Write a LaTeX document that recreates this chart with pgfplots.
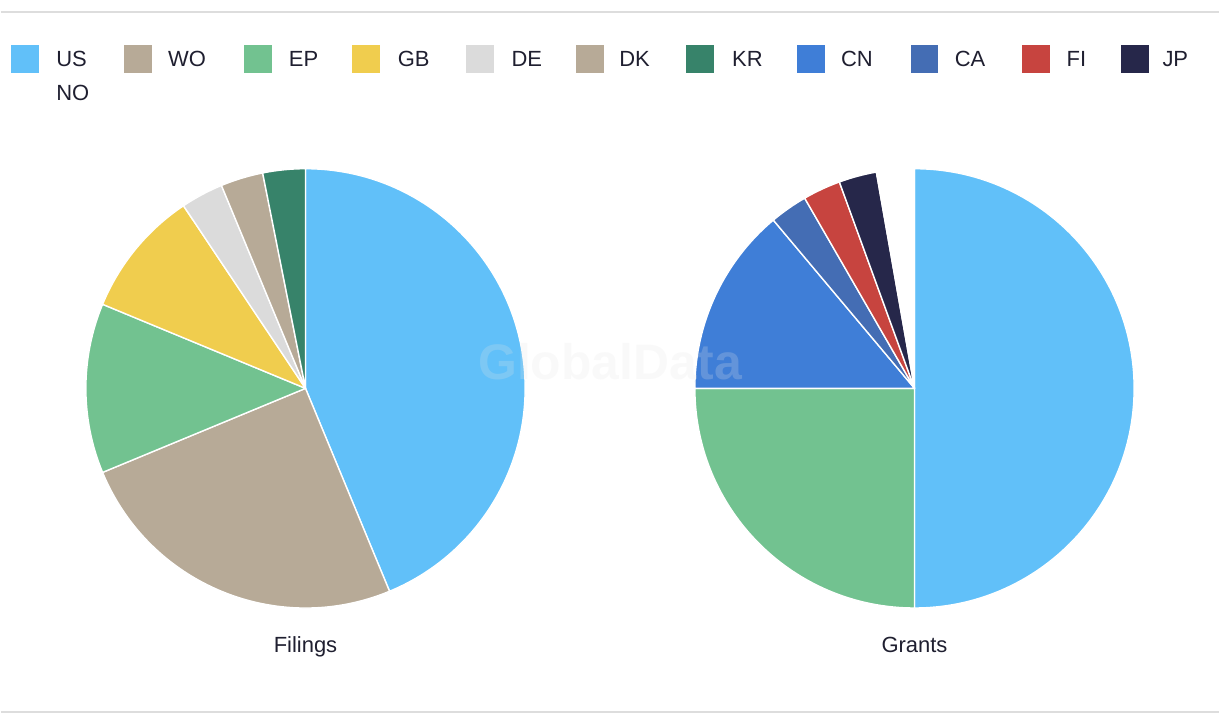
\documentclass[border=0pt]{standalone}
\usepackage{pgfplots}
\usepackage{pgfplotstable}
\pgfplotsset{compat=1.18}
\usepackage{fontspec}
\setmainfont{Liberation Sans}

\definecolor{cUS}{HTML}{61C0F9}
\definecolor{cWO}{HTML}{B7AA97}
\definecolor{cEP}{HTML}{72C290}
\definecolor{cGB}{HTML}{F0CD4E}
\definecolor{cDE}{HTML}{DBDBDB}
\definecolor{cDK}{HTML}{B7AA97}
\definecolor{cKR}{HTML}{37836A}
\definecolor{cCN}{HTML}{3F7ED7}
\definecolor{cCA}{HTML}{446DB4}
\definecolor{cFI}{HTML}{C7443F}
\definecolor{cJP}{HTML}{26274A}
\definecolor{cNO}{HTML}{FFFFFF}
\definecolor{txt}{HTML}{1F1F30}
\definecolor{rule}{HTML}{DDDDDD}

\pgfplotstableread{
name value col
US 14 cUS
WO 8 cWO
EP 4 cEP
GB 3 cGB
DE 1 cDE
DK 1 cDK
KR 1 cKR
}\filings

\pgfplotstableread{
name value col
US 18 cUS
EP 9 cEP
CN 5 cCN
CA 1 cCA
FI 1 cFI
JP 1 cJP
NO 1 cNO
}\grants

\newcommand\drawpie[3]{%
  \pgfplotstablegetrowsof{#1}%
  \pgfmathtruncatemacro\nrows{\pgfplotsretval-1}%
  \gdef\pietotal{0}%
  \pgfplotsforeachungrouped \i in {0,...,\nrows}{%
    \pgfplotstablegetelem{\i}{value}\of#1%
    \pgfmathparse{\pietotal+\pgfplotsretval}\xdef\pietotal{\pgfmathresult}}%
  \gdef\piecum{0}%
  \pgfplotsforeachungrouped \i in {0,...,\nrows}{%
    \pgfplotstablegetelem{\i}{value}\of#1\let\v\pgfplotsretval
    \pgfplotstablegetelem{\i}{col}\of#1\let\c\pgfplotsretval
    \pgfmathsetmacro\a{90-360*\piecum/\pietotal}%
    \pgfmathsetmacro\b{90-360*(\piecum+\v)/\pietotal}%
    \edef\temp{\noexpand\fill[fill=\c,draw=white,line width=0.7pt,line join=round]
      (axis cs:#2,#3) -- ([shift={(\a:110pt)}]axis cs:#2,#3)
      arc[start angle=\a,end angle=\b,radius=110pt] -- cycle;}%
    \temp
    \pgfmathparse{\piecum+\v}\xdef\piecum{\pgfmathresult}%
  }%
}

\begin{document}
\begin{tikzpicture}
\begin{axis}[
  x=0.5pt, y=0.5pt,
  xmin=0, xmax=1220, ymin=0, ymax=724,
  hide axis, clip=false,
  scale only axis,
]
% full canvas
\path (axis cs:0,0) rectangle (axis cs:1220,724);
% rules
\draw[rule, line width=1pt] (axis cs:0,712) -- (axis cs:1220,712);
\draw[rule, line width=1pt] (axis cs:0,11) -- (axis cs:1220,11);

\drawpie{\filings}{305}{335}
\drawpie{\grants}{915}{335}

% watermark
\node[text=gray!20, opacity=0.22, font=\fontsize{25pt}{28pt}\selectfont\bfseries] at (axis cs:610,362) {GlobalData};

% titles
\node[anchor=base, text=txt, font=\fontsize{11pt}{13pt}\selectfont] at (axis cs:305,70) {Filings};
\node[anchor=base, text=txt, font=\fontsize{11pt}{13pt}\selectfont] at (axis cs:915,70) {Grants};

% legend
\fill[cUS] (axis cs:10,679) rectangle (axis cs:38,651);
\node[anchor=base west, inner sep=0pt, text=txt, font=\fontsize{11pt}{13pt}\selectfont] at (axis cs:55,657) {US};
\fill[cWO] (axis cs:123,679) rectangle (axis cs:151,651);
\node[anchor=base west, inner sep=0pt, text=txt, font=\fontsize{11pt}{13pt}\selectfont] at (axis cs:167,657) {WO};
\fill[cEP] (axis cs:243,679) rectangle (axis cs:271,651);
\node[anchor=base west, inner sep=0pt, text=txt, font=\fontsize{11pt}{13pt}\selectfont] at (axis cs:288,657) {EP};
\fill[cGB] (axis cs:352,679) rectangle (axis cs:380,651);
\node[anchor=base west, inner sep=0pt, text=txt, font=\fontsize{11pt}{13pt}\selectfont] at (axis cs:397,657) {GB};
\fill[cDE] (axis cs:466,679) rectangle (axis cs:494,651);
\node[anchor=base west, inner sep=0pt, text=txt, font=\fontsize{11pt}{13pt}\selectfont] at (axis cs:511,657) {DE};
\fill[cDK] (axis cs:576,679) rectangle (axis cs:604,651);
\node[anchor=base west, inner sep=0pt, text=txt, font=\fontsize{11pt}{13pt}\selectfont] at (axis cs:619,657) {DK};
\fill[cKR] (axis cs:686,679) rectangle (axis cs:714,651);
\node[anchor=base west, inner sep=0pt, text=txt, font=\fontsize{11pt}{13pt}\selectfont] at (axis cs:732,657) {KR};
\fill[cCN] (axis cs:797,679) rectangle (axis cs:825,651);
\node[anchor=base west, inner sep=0pt, text=txt, font=\fontsize{11pt}{13pt}\selectfont] at (axis cs:841,657) {CN};
\fill[cCA] (axis cs:911,679) rectangle (axis cs:939,651);
\node[anchor=base west, inner sep=0pt, text=txt, font=\fontsize{11pt}{13pt}\selectfont] at (axis cs:955,657) {CA};
\fill[cFI] (axis cs:1023,679) rectangle (axis cs:1051,651);
\node[anchor=base west, inner sep=0pt, text=txt, font=\fontsize{11pt}{13pt}\selectfont] at (axis cs:1067,657) {FI};
\fill[cJP] (axis cs:1122,679) rectangle (axis cs:1150,651);
\node[anchor=base west, inner sep=0pt, text=txt, font=\fontsize{11pt}{13pt}\selectfont] at (axis cs:1163,657) {JP};
\fill[cNO] (axis cs:10,645) rectangle (axis cs:38,617);
\node[anchor=base west, inner sep=0pt, text=txt, font=\fontsize{11pt}{13pt}\selectfont] at (axis cs:55,623) {NO};
\end{axis}
\end{tikzpicture}
\end{document}
